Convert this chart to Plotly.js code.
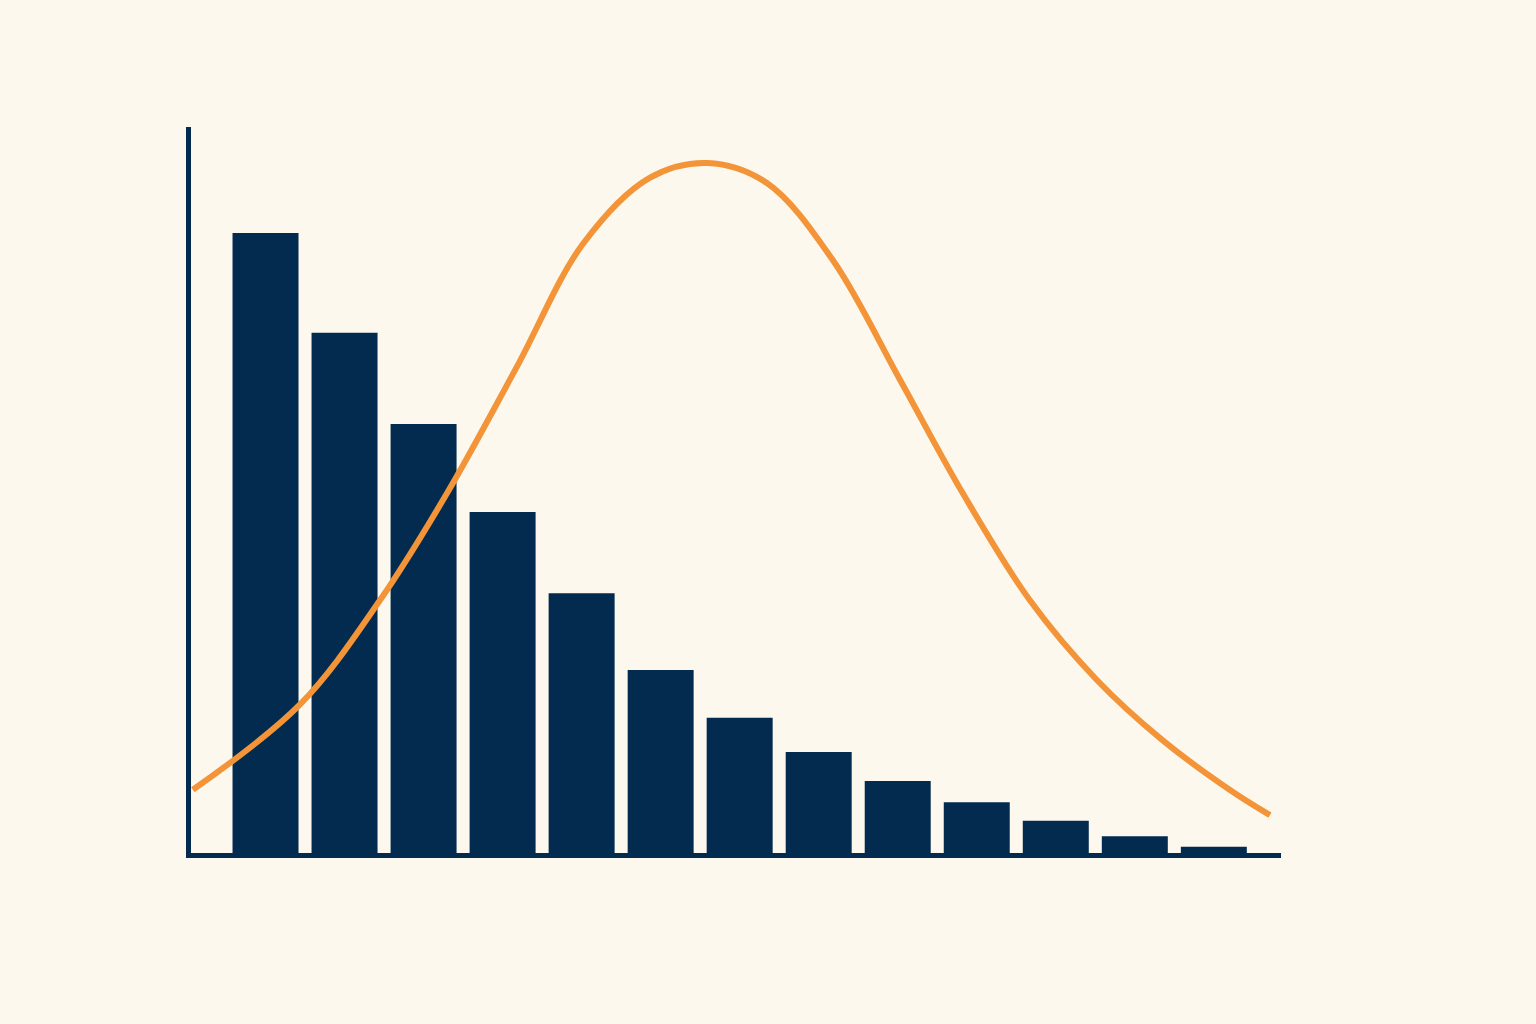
<!DOCTYPE html>
<html>
<head>
<meta charset="utf-8">
<script src="https://cdn.plot.ly/plotly-3.0.1.min.js"></script>
<style>html,body{margin:0;padding:0;background:#FDF8EE;}#chart{width:1536px;height:1024px;}</style>
</head>
<body>
<div id="chart"></div>
<script>
const binCenters = [1,2,3,4,5,6,7,8,9,10,11,12,13];
const binValues = [100,83.9,69.2,55,41.9,29.5,21.8,16.3,11.6,8.2,5.2,2.7,1.0];
const curveX = [0.08,1.44,2.45,3.30,4.18,5.02,5.86,6.59,7.34,8.18,9.03,9.82,10.67,11.52,12.35,13.20,13.71];
const curveY = [10.2,24.0,40.8,58.1,78.4,98.3,108.9,111.3,108.1,95.6,76.3,58.1,40.8,27.9,18.2,10.2,6.1];

const data = [
  {type:'bar', x:binCenters, y:binValues, marker:{color:'#022B4F', line:{width:0}}, hoverinfo:'skip'},
  {type:'scatter', mode:'lines', x:curveX, y:curveY, line:{color:'#F39438', width:6, shape:'spline', smoothing:1}, hoverinfo:'skip'}
];
const layout = {
  width:1536, height:1024,
  paper_bgcolor:'#FDF8EE', plot_bgcolor:'#FDF8EE',
  margin:{l:191, r:255, t:127, b:171},
  showlegend:false,
  bargap:0.165,
  xaxis:{range:[0.057,13.85], showgrid:false, zeroline:false, showticklabels:false, ticks:'', showline:true, linecolor:'#022B4F', linewidth:5},
  yaxis:{range:[0,117.1], showgrid:false, zeroline:false, showticklabels:false, ticks:'', showline:true, linecolor:'#022B4F', linewidth:5}
};
Plotly.newPlot('chart', data, layout, {displayModeBar:false, staticPlot:true});
</script>
</body>
</html>
